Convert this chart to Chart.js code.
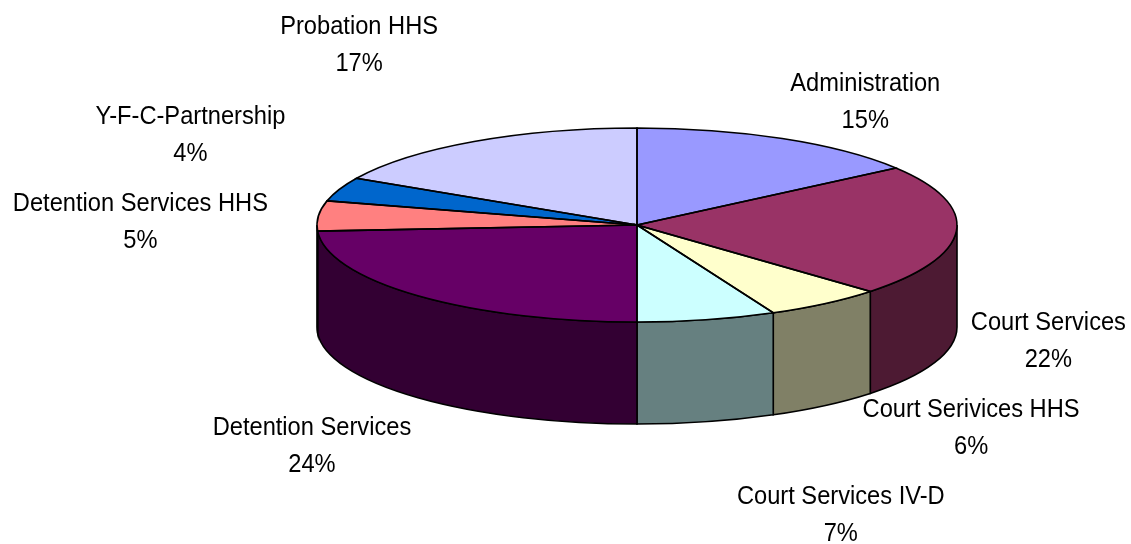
<!DOCTYPE html>
<html>
<head>
<meta charset="utf-8">
<script src="https://cdn.jsdelivr.net/npm/chart.js@4/dist/chart.umd.min.js"></script>
<style>
  html, body { margin: 0; padding: 0; background: #fff; }
  #wrap { width: 1131px; height: 544px; }
</style>
</head>
<body>
<div id="wrap"><canvas id="pie" width="1131" height="544"></canvas></div>
<script>
const categories = ['Administration', 'Court Services', 'Court Serivices HHS', 'Court Services IV-D',
  'Detention Services', 'Detention Services HHS', 'Y-F-C-Partnership', 'Probation HHS'];
const shares = [15, 22, 6, 7, 24, 5, 4, 17];
const sliceColors = ['#9999FF', '#993366', '#FFFFCC', '#CCFFFF', '#660066', '#FF8080', '#0066CC', '#CCCCFF'];

// 3d look: squash the pie vertically and give it a wall
const tilt = 97 / 320;
const depth = 102;
// label placement, relative to the rim point under each slice's middle
const labelOffsets = [[83, -48], [92, -3], [146, 12], [134, 82], [-106, 37], [-178, -5], [-149, -65], [-115, -108]];

const shade = (hex, f) => {
  const n = parseInt(hex.slice(1), 16);
  const c = [(n >> 16) & 255, (n >> 8) & 255, n & 255].map(v => Math.round(v * f));
  return `rgb(${c.join(',')})`;
};

const squash = (ctx, arc) => {
  ctx.translate(arc.x, arc.y);
  ctx.scale(1, tilt);
  ctx.translate(-arc.x, -arc.y);
};

const pie3d = {
  id: 'pie3d',
  beforeDatasetsDraw(chart) {
    const ctx = chart.ctx;
    const arcs = chart.getDatasetMeta(0).data;
    ctx.save();
    ctx.lineWidth = 1.6;
    ctx.strokeStyle = '#000';
    // front walls (only the part facing us)
    arcs.forEach((arc, i) => {
      const a1 = Math.max(arc.startAngle, 0);
      const a2 = Math.min(arc.endAngle, Math.PI);
      if (a2 <= a1) return;
      const r = arc.outerRadius, ry = r * tilt;
      ctx.beginPath();
      ctx.ellipse(arc.x, arc.y, r, ry, 0, a1, a2);
      ctx.ellipse(arc.x, arc.y + depth, r, ry, 0, a2, a1, true);
      ctx.closePath();
      ctx.fillStyle = shade(sliceColors[i], 0.5);
      ctx.fill();
      ctx.stroke();
    });
    ctx.restore();
    // top faces get drawn by chart.js under this transform
    ctx.save();
    squash(ctx, arcs[0]);
  },
  afterDatasetsDraw(chart) {
    const ctx = chart.ctx;
    ctx.restore();
    const arcs = chart.getDatasetMeta(0).data;
    const total = shares.reduce((a, b) => a + b, 0);

    // outlines of the top faces, stroked without the squash so lines stay even
    arcs.forEach(arc => {
      ctx.save();
      squash(ctx, arc);
      ctx.beginPath();
      ctx.moveTo(arc.x, arc.y);
      ctx.arc(arc.x, arc.y, arc.outerRadius, arc.startAngle, arc.endAngle);
      ctx.closePath();
      ctx.restore();
      ctx.lineWidth = 1.6;
      ctx.strokeStyle = '#000';
      ctx.stroke();
    });

    // labels
    ctx.save();
    ctx.fillStyle = '#000';
    ctx.font = '26px "Liberation Sans", Arial, sans-serif';
    ctx.textAlign = 'center';
    ctx.textBaseline = 'alphabetic';
    arcs.forEach((arc, i) => {
      const mid = (arc.startAngle + arc.endAngle) / 2;
      const r = arc.outerRadius;
      let x = arc.x + r * Math.cos(mid);
      let y = arc.y + r * tilt * Math.sin(mid) + (Math.sin(mid) > 0 ? depth : 0);
      x += labelOffsets[i][0];
      y += labelOffsets[i][1];
      const lines = [categories[i], Math.round(shares[i] / total * 100) + '%'];
      lines.forEach((txt, k) => {
        ctx.save();
        ctx.translate(x, y + k * 37);
        ctx.scale(0.91, 1);
        ctx.fillText(txt, 0, 0);
        ctx.restore();
      });
    });
    ctx.restore();
  }
};

new Chart(document.getElementById('pie'), {
  type: 'pie',
  data: {
    labels: categories,
    datasets: [{
      data: shares,
      backgroundColor: sliceColors,
      borderWidth: 0,
      hoverOffset: 0,
      clip: false
    }]
  },
  options: {
    responsive: false,
    animation: false,
    events: [],
    radius: 320,
    layout: { padding: { left: 143, right: 0, top: 0, bottom: 94 } },
    plugins: {
      legend: { display: false },
      tooltip: { enabled: false }
    }
  },
  plugins: [pie3d]
});
</script>
</body>
</html>
